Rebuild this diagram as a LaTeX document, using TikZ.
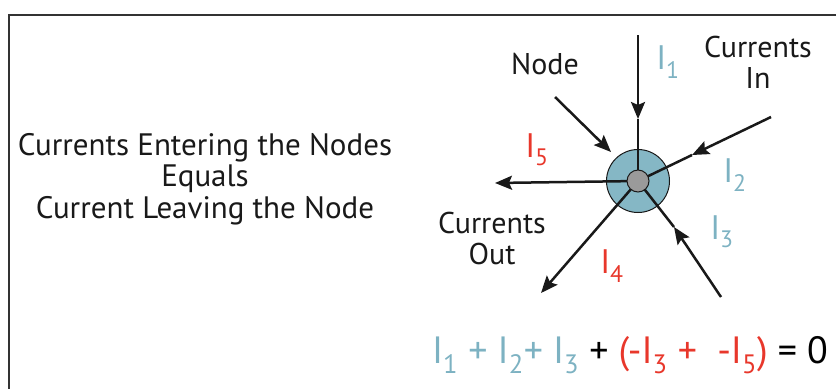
\documentclass[tikz,border=0pt]{standalone}
\usepackage{fontspec}
\setmainfont{PT Sans}
\usetikzlibrary{arrows.meta}
\definecolor{tealc}{HTML}{85B7C5}
\definecolor{tealtxt}{HTML}{7DB2C2}
\definecolor{redc}{HTML}{E8372B}
\definecolor{grayc}{HTML}{9A9A9A}
\definecolor{framec}{HTML}{333333}
\begin{document}
\begin{tikzpicture}[x=1pt,y=-1pt,
  lbl/.style={font=\fontsize{30}{31}\selectfont, text=black!90, align=center, inner sep=0},
  cur/.style={font=\fontsize{34}{36}\selectfont, inner sep=0},
  wire/.style={line width=2.5pt, draw=black!90},
  tip/.style={-{Stealth[length=17pt,width=14pt,inset=3pt]}}]
\useasboundingbox (0,0) rectangle (837,389);
\draw[framec, line width=2pt] (836,15) -- (9,15) -- (9,389);
% node
\coordinate (c) at (638,181);
\node[circle, draw=black!90, line width=1pt, fill=tealc, minimum size=63pt, inner sep=0] (outer) at (c) {};
% coordinates
\coordinate (i1s) at (638,35);
\coordinate (i1t) at (638,119);
\coordinate (i2s) at (771,117);
\coordinate (i2t) at (692,155);
\coordinate (i3s) at (721,297);
\coordinate (i3t) at (674,227);
\coordinate (i4e) at (541,293);
\coordinate (i5e) at (495,183);
\coordinate (nds) at (555,97);
\coordinate (ndt) at (611,152);
% wires
\draw[wire, tip] (i1s) -- (i1t);
\draw[wire] (i1t) -- (c);
\draw[wire, tip] (i2s) -- (i2t);
\draw[wire] (i2t) -- (c);
\draw[wire, tip] (i3s) -- (i3t);
\draw[wire] (i3t) -- (c);
\draw[wire, tip] (c) -- (i4e);
\draw[wire, tip] (c) -- (i5e);
\draw[wire, tip] (nds) -- (ndt);
\node[circle, draw=black!90, line width=1pt, fill=grayc, minimum size=22pt, inner sep=0] (hub) at (c) {};
% labels
\node[lbl] (nodelbl) at (545,64) {Node};
\node[lbl] (inlbl) at (758,62) {Currents\\In};
\node[lbl] (outlbl) at (492,238) {Currents\\Out};
\node[lbl, font=\fontsize{31}{31.5}\selectfont] (rule) at (205,179) {Currents Entering the Nodes\\Equals\\Current Leaving the Node};
\node[cur, text=tealtxt] (l1) at (668,62) {I\textsubscript{1}};
\node[cur, text=tealtxt] (l2) at (735,175) {I\textsubscript{2}};
\node[cur, text=tealtxt] (l3) at (722,232) {I\textsubscript{3}};
\node[cur, text=redc] (l4) at (612,266) {I\textsubscript{4}};
\node[cur, text=redc] (l5) at (537,150) {I\textsubscript{5}};
\node[font=\fontsize{38}{40}\selectfont, inner sep=0] (eq) at (630,355)
  {\textcolor{tealtxt}{I\textsubscript{1} + I\textsubscript{2}+ I\textsubscript{3}} + \textcolor{redc}{(-I\textsubscript{3} +~ -I\textsubscript{5})} = 0};
\end{tikzpicture}
\end{document}
